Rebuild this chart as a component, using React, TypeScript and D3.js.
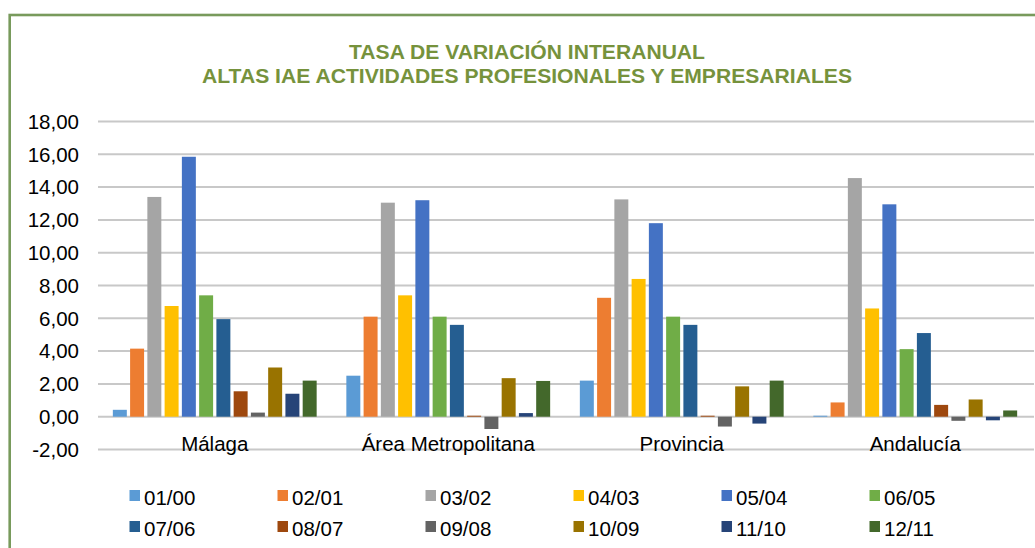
import React from "react";
import * as d3 from "d3";

const titleLines = ["TASA DE VARIACIÓN INTERANUAL", "ALTAS IAE ACTIVIDADES PROFESIONALES Y EMPRESARIALES"];
const categories = ["Málaga", "Área Metropolitana", "Provincia", "Andalucía"];
const seriesNames = ["01/00", "02/01", "03/02", "04/03", "05/04", "06/05", "07/06", "08/07", "09/08", "10/09", "11/10", "12/11"];
const seriesColors = ["#5B9BD5", "#ED7D31", "#A5A5A5", "#FFC000", "#4472C4", "#70AD47", "#255E91", "#9E480E", "#636363", "#997300", "#264478", "#43682B"];

const malaga = [0.42, 4.15, 13.4, 6.75, 15.85, 7.4, 5.95, 1.55, 0.25, 3.0, 1.4, 2.2];
const areaMetropolitana = [2.5, 6.1, 13.05, 7.4, 13.2, 6.1, 5.6, 0.06, -0.75, 2.35, 0.22, 2.18];
const provincia = [2.2, 7.25, 13.25, 8.4, 11.8, 6.1, 5.6, 0.06, -0.6, 1.85, -0.42, 2.2];
const andalucia = [0.06, 0.87, 14.55, 6.6, 12.95, 4.12, 5.1, 0.72, -0.25, 1.05, -0.22, 0.38];

const valuesByCategory = [malaga, areaMetropolitana, provincia, andalucia];
const yTicks = [-2, 0, 2, 4, 6, 8, 10, 12, 14, 16, 18];

const fmt = (v: number) => d3.format(".2f")(v).replace(".", ",").replace("\u2212", "-");

export default function App() {
  const W = 1035;
  const H = 548;
  const x0 = d3.scaleBand<string>().domain(categories).range([98, 1032]).padding(0);
  const x1 = d3
    .scaleBand<string>()
    .domain(seriesNames)
    .range([0, x0.bandwidth()])
    .paddingInner(0.19)
    .paddingOuter(0.86);
  const y = d3.scaleLinear().domain([-2, 18]).range([449.5, 121.5]);

  const font = "'Liberation Sans', Arial, sans-serif";
  const legendX = d3.scaleLinear().domain([0, 1]).range([129.5, 277.5]);

  return (
    <svg
      width={W}
      height={H}
      style={{ position: "absolute", left: 0, top: 0, background: "#fff" }}
      fontFamily={font}
    >
      <rect x={0} y={0} width={W} height={H} fill="#fff" />
      <rect x={9.7} y={15} width={1100} height={600} fill="none" stroke="#789a5c" strokeWidth={2.6} />

      {titleLines.map((t, i) => (
        <text
          key={t}
          x={527}
          y={59 + i * 24}
          textAnchor="middle"
          fontSize={20}
          fontWeight="bold"
          fill="#76923c"
          textLength={i === 0 ? 356 : 650}
          lengthAdjust="spacingAndGlyphs"
        >
          {t}
        </text>
      ))}

      {yTicks.map((t) => (
        <g key={t}>
          <line x1={98} x2={1034} y1={y(t)} y2={y(t)} stroke="#c8c8c8" strokeWidth={2} />
          <text x={79} y={y(t)} dy="0.36em" textAnchor="end" fontSize={20.5} fill="#000">
            {fmt(t)}
          </text>
        </g>
      ))}

      {categories.map((c, ci) => (
        <g key={c} transform={`translate(${x0(c)},0)`}>
          {seriesNames.map((s, si) => {
            const v = valuesByCategory[ci][si];
            const top = y(Math.max(0, v));
            const h = Math.abs(y(v) - y(0));
            return (
              <rect key={s} x={x1(s)} y={top} width={x1.bandwidth()} height={h} fill={seriesColors[si]} />
            );
          })}
          <text x={x0.bandwidth() / 2} y={451} textAnchor="middle" fontSize={20.5} fill="#000">
            {c}
          </text>
        </g>
      ))}

      {seriesNames.map((s, i) => {
        const col = i % 6;
        const row = Math.floor(i / 6);
        const lx = legendX(col);
        const ly = 490 + row * 31;
        return (
          <g key={s}>
            <rect x={lx} y={ly} width={10.5} height={11} fill={seriesColors[i]} />
            <text x={lx + 14.5} y={ly + 15} fontSize={20.5} fill="#000">
              {s}
            </text>
          </g>
        );
      })}
    </svg>
  );
}
